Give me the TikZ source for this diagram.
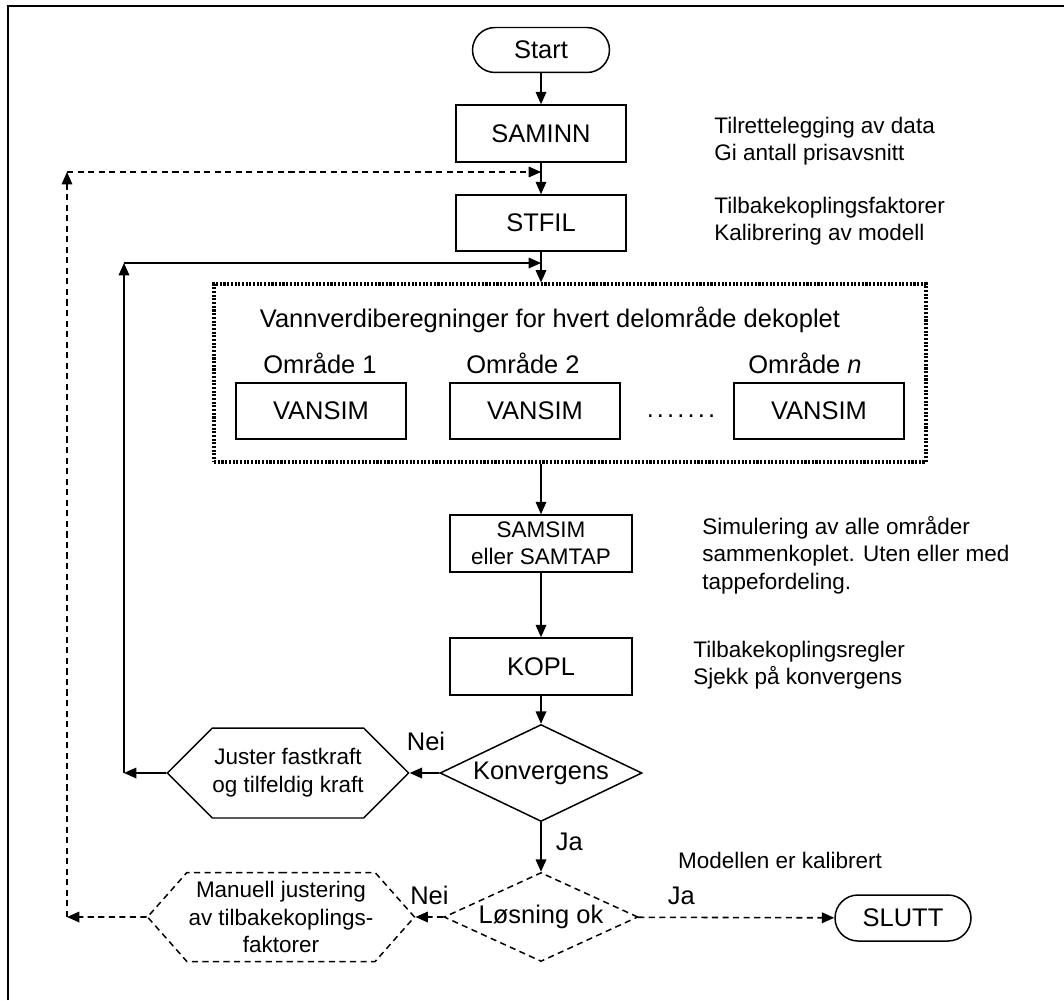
\documentclass[tikz,border=0pt]{standalone}
\usepackage{fontspec}
\setmainfont{Liberation Sans}
\usetikzlibrary{shapes}
\usetikzlibrary{positioning}
\usetikzlibrary{arrows.meta}
\tikzset{
    mybox/.style = {rectangle, draw=black, line width=0.85pt, align=center, inner sep=0pt, font=\fontsize{14.5}{17}\selectfont},
    myboxs/.style = {mybox, font=\fontsize{12.8}{15.6}\selectfont},
    mypill/.style = {rounded rectangle, draw=black, line width=0.85pt, inner sep=0pt, font=\fontsize{14.5}{17}\selectfont},
    mydiam/.style = {diamond, aspect=2, draw=black, line width=0.85pt, inner sep=0pt, font=\fontsize{14.5}{17}\selectfont},
    mydiamd/.style = {mydiam, dash pattern=on 3.5pt off 2.5pt},
    myhex/.style = {signal, signal to=west and east, signal pointer angle=90, draw=black, line width=0.85pt, inner sep=0pt, align=center, font=\fontsize{12.8}{15.8}\selectfont},
    myhexd/.style = {myhex, signal pointer angle=97, dash pattern=on 3.5pt off 2.5pt},
    mygroup/.style = {rectangle, draw=black, line width=1.8pt, dash pattern=on 1.2pt off 0.9pt, inner sep=0pt},
    mynote/.style = {anchor=west, align=left, inner sep=0pt, font=\fontsize{12.8}{15.6}\selectfont},
    mylabel/.style = {inner sep=0pt, font=\fontsize{14.5}{17}\selectfont},
    edgen/.style = {-{Triangle[length=7pt,width=6pt]}, line width=0.9pt, black},
    edged/.style = {edgen, dash pattern=on 3.5pt off 2.5pt}, % manual calibration loop
}

\begin{document}
\begin{tikzpicture}[x=0.02cm, y=-0.02cm, font=\fontsize{14.5}{17}\selectfont]
  \useasboundingbox (0,0) rectangle (1064,1000);
  \draw[line width=1.4pt] (8,1000) -- (8,6) -- (1064,6);
  % main column
  \node[mypill, minimum width=2.74cm, minimum height=0.9cm] (start) at (541,50) {Start};
  \node[mybox, minimum width=3.4cm, minimum height=1.14cm] (saminn) at (541,133.5) {SAMINN};
  \node[mybox, minimum width=3.4cm, minimum height=1.12cm] (stfil) at (541,223) {STFIL};
  % sub-areas
  \node[mygroup, minimum width=14.24cm, minimum height=3.56cm] (group) at (570,373) {};
  \node[mylabel] (vtitle) at (550,320) {Vannverdiberegninger for hvert delområde dekoplet};
  \node[mylabel] (omr1) at (320,363) {Område 1};
  \node[mylabel] (omr2) at (523,363) {Område 2};
  \node[mylabel] (omrn) at (805,363) {Område \textit{n}};
  \node[mybox, minimum width=3.4cm, minimum height=1.12cm] (vans1) at (321,411) {VANSIM};
  \node[mybox, minimum width=3.4cm, minimum height=1.12cm] (vans2) at (535,411) {VANSIM};
  \node[mybox, minimum width=3.4cm, minimum height=1.12cm] (vansn) at (819,411) {VANSIM};
  \node[mylabel, anchor=base] (dots) at (681,417) {.\kern1.8pt.\kern1.8pt.\kern1.8pt.\kern1.8pt.\kern1.8pt.\kern1.8pt.};
  \node[myboxs, minimum width=3.64cm, minimum height=1.14cm] (samsim) at (541,543.5) {SAMSIM\\eller SAMTAP};
  \node[mybox, minimum width=3.64cm, minimum height=1.14cm] (kopl) at (541,666.5) {KOPL};
  \node[mydiam, minimum width=4.04cm, minimum height=1.94cm] (konv) at (541,773) {Konvergens};
  \node[myhex, minimum width=4.74cm, minimum height=1.8cm] (juster) at (288,773) {Juster fastkraft\\og tilfeldig kraft};
  \node[mydiamd, minimum width=3.88cm, minimum height=1.78cm] (losn) at (541,917) {Løsning ok};
  \node[myhexd, minimum width=5.34cm, minimum height=1.78cm] (manuell) at (281,917) {Manuell justering\\av tilbakekoplings-\\faktorer};
  \node[mypill, minimum width=2.72cm, minimum height=0.92cm] (slutt) at (903,918) {SLUTT};
  % notes
  \node[mynote] (note1) at (714,141) {Tilrettelegging av data\\Gi antall prisavsnitt};
  \node[mynote] (note2) at (714,221) {Tilbakekoplingsfaktorer\\Kalibrering av modell};
  \node[mynote] (note3) at (702,555) {Simulering av alle områder\\sammenkoplet. Uten eller med\\tappefordeling.};
  \node[mynote] (note4) at (693,665) {Tilbakekoplingsregler\\Sjekk på konvergens};
  \node[mynote, anchor=center] (note5) at (780,860) {Modellen er kalibrert};
  % loop corners
  \coordinate (cs1) at (124,773);
  \coordinate (cs2) at (124,263);
  \coordinate (cs3) at (541,263);
  \coordinate (cd1) at (67,917);
  \coordinate (cd2) at (67,172);
  \coordinate (cd3) at (541,172);
  % connectors
  \draw[edgen] (start) -- (saminn);
  \draw[edgen] (saminn) -- (stfil);
  \draw[edgen] (stfil) -- (stfil |- group.north);
  \draw[edgen] (group.south -| samsim) -- (samsim);
  \draw[edgen] (samsim) -- (kopl);
  \draw[edgen] (kopl) -- (konv);
  \draw[edgen] (konv) -- node[mylabel, above=12pt, pos=0.45] {Nei} (juster);
  \draw[edgen] (juster) -- (cs1);
  \draw[edgen] (cs1) -- (cs2);
  \draw[edgen] (cs2) -- (cs3);
  \draw[edgen] (konv) -- node[mylabel, right=8pt, pos=0.4] {Ja} (losn);
  \draw[edged] (losn) -- node[mylabel, above=6.5pt, pos=0.5] {Nei} (manuell);
  \draw[edged] (losn) -- node[mylabel, above=6.5pt, pos=0.22] {Ja} (slutt);
  \draw[edged] (manuell) -- (cd1);
  \draw[edged] (cd1) -- (cd2);
  \draw[edged] (cd2) -- (cd3);
\end{tikzpicture}
\end{document}
